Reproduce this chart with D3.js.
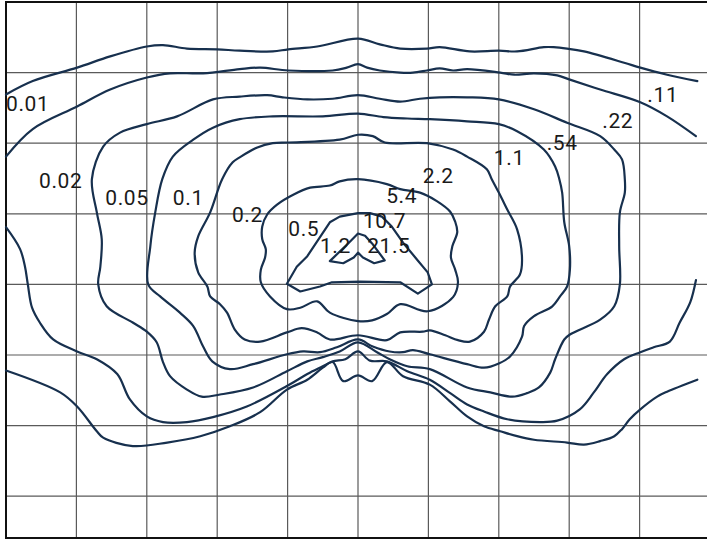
<!DOCTYPE html>
<html>
<head>
<meta charset="utf-8">
<script src="https://cdn.jsdelivr.net/npm/d3@7"></script>
<style>
  html, body { margin: 0; padding: 0; background: #fff; }
  svg { display: block; }
</style>
</head>
<body>
<svg id="chart" width="707" height="540"></svg>
<script>
// ---- Data (grid units; one grid cell = 1 unit, origin at the centre of the diagram) ----
const gridX = [-5,-4,-3,-2,-1,0,1,2,3,4,5];
const gridY = [4,3,2,1,0,-1,-2,-3];

// outermost contour (.11 / 0.01) – upper and lower branches
const c011Top = [[-5.00,2.69],[-4.62,2.88],[-3.99,3.07],[-3.52,3.23],[-3.00,3.37],[-2.77,3.39],[-2.43,3.34],[-2.00,3.33],[-1.68,3.31],[-1.21,3.30],[-0.99,3.33],[-0.58,3.37],[0,3.48],[0.31,3.40],[0.60,3.34],[0.98,3.34],[1.16,3.36],[1.59,3.30],[2.00,3.31],[2.26,3.30],[2.64,3.36],[2.78,3.36],[2.97,3.34],[3.21,3.30],[3.78,3.14],[4.01,3.07],[4.39,2.97],[4.82,2.88]];
const c011Bottom = [[-5.00,-1.22],[-4.23,-1.53],[-3.99,-1.73],[-3.71,-2.08],[-3.62,-2.17],[-3.20,-2.29],[-2.71,-2.24],[-2.24,-2.15],[-1.82,-2.01],[-1.39,-1.81],[-1.01,-1.49],[-0.72,-1.35],[-0.50,-1.18],[-0.36,-1.10],[-0.21,-1.37],[0,-1.29],[0.20,-1.37],[0.41,-1.10],[0.64,-1.30],[1.02,-1.42],[1.31,-1.66],[1.55,-1.87],[1.79,-2.01],[2.02,-2.08],[2.26,-2.15],[2.50,-2.20],[2.97,-2.24],[3.21,-2.27],[3.44,-2.22],[3.64,-2.15],[3.75,-2.05],[3.86,-1.91],[4.01,-1.77],[4.25,-1.59],[4.39,-1.52],[4.82,-1.35]];

// .22 / 0.02 contour – upper and lower branches
const c022Top = [[-5.00,1.81],[-4.62,2.20],[-3.99,2.52],[-3.52,2.76],[-3.00,2.93],[-2.67,2.99],[-2.20,2.99],[-1.68,3.05],[-1.39,3.07],[-0.99,3.03],[-0.36,3.03],[-0.16,3.07],[0,3.12],[0.13,3.07],[0.31,3.03],[0.60,3.00],[0.78,3.00],[0.98,3.03],[1.16,3.06],[1.35,3.03],[1.55,3.05],[2.02,3.00],[2.22,2.97],[2.50,2.99],[2.83,2.96],[3.01,2.90],[3.44,2.76],[4.01,2.58],[4.39,2.38],[4.80,2.10]];
const c022Bottom = [[-5.00,0.81],[-4.80,0.50],[-4.73,0.25],[-4.69,0],[-4.63,-0.33],[-4.52,-0.54],[-4.33,-0.78],[-3.99,-0.95],[-3.71,-1.06],[-3.42,-1.27],[-3.24,-1.63],[-3.00,-1.87],[-2.77,-1.95],[-2.43,-1.95],[-2.06,-1.88],[-1.58,-1.73],[-1.01,-1.44],[-0.72,-1.27],[-0.50,-1.16],[-0.36,-1.09],[-0.18,-1.06],[0,-0.95],[0.17,-1.08],[0.41,-1.09],[0.70,-1.23],[1.02,-1.35],[1.31,-1.54],[1.55,-1.70],[1.79,-1.80],[2.12,-1.91],[2.59,-1.95],[2.83,-1.93],[3.15,-1.77],[3.35,-1.53],[3.54,-1.27],[3.78,-1.06],[4.01,-0.96],[4.20,-0.89],[4.43,-0.81],[4.57,-0.54],[4.72,-0.25],[4.80,0.06]];

// closed contours
const c054 = [[-3.78,1.49],[-3.62,1.95],[-3.38,2.15],[-3.00,2.27],[-2.57,2.38],[-2.06,2.62],[-1.68,2.66],[-1.29,2.68],[-1.07,2.65],[-0.72,2.62],[-0.36,2.63],[0,2.68],[0.31,2.63],[0.60,2.59],[0.88,2.63],[1.16,2.65],[1.55,2.65],[2.00,2.62],[2.50,2.48],[2.97,2.29],[3.44,2.10],[3.64,1.91],[3.75,1.77],[3.79,1.49],[3.79,1.30],[3.72,1.02],[3.71,0.54],[3.72,0],[3.64,-0.31],[3.44,-0.50],[3.01,-0.71],[2.93,-0.78],[2.80,-1.06],[2.73,-1.25],[2.57,-1.46],[2.40,-1.54],[2.19,-1.59],[1.88,-1.53],[1.55,-1.46],[1.02,-1.20],[0.70,-1.16],[0.45,-1.06],[0.27,-0.96],[0,-0.82],[-0.26,-0.95],[-0.50,-1.03],[-0.72,-1.09],[-1.01,-1.23],[-1.49,-1.46],[-1.96,-1.56],[-2.22,-1.59],[-2.43,-1.49],[-2.67,-1.30],[-2.77,-1.10],[-2.86,-0.82],[-3.00,-0.67],[-3.20,-0.54],[-3.57,-0.31],[-3.69,0],[-3.66,0.25],[-3.64,0.64],[-3.71,1.02]];
const c11 = [[-2.78,1.49],[-2.63,1.81],[-2.34,2.05],[-2.06,2.22],[-1.68,2.34],[-1.21,2.38],[-0.50,2.38],[0,2.42],[0.36,2.37],[0.70,2.35],[1.02,2.34],[1.55,2.31],[2.00,2.27],[2.26,2.17],[2.64,1.91],[2.80,1.67],[2.86,1.49],[2.90,1.30],[2.93,0.88],[3.00,0.54],[3.01,0.21],[2.97,-0.03],[2.87,-0.17],[2.76,-0.31],[2.50,-0.45],[2.36,-0.59],[2.33,-0.74],[2.16,-1.02],[2.00,-1.12],[1.79,-1.18],[1.55,-1.13],[1.02,-0.99],[0.78,-0.93],[0.64,-0.96],[0.45,-0.95],[0.21,-0.88],[0,-0.78],[-0.30,-0.89],[-0.54,-0.96],[-0.78,-0.95],[-1.01,-0.99],[-1.49,-1.13],[-1.82,-1.20],[-2.07,-1.09],[-2.20,-0.88],[-2.34,-0.59],[-2.53,-0.40],[-2.81,-0.17],[-2.98,0],[-2.95,0.54],[-2.88,1.02]];
const c22 = [[-1.93,1.49],[-1.78,1.73],[-1.68,1.80],[-1.43,1.94],[-1.21,2.00],[-0.99,2.01],[-0.26,2.05],[0,2.12],[0.21,2.10],[0.38,2.01],[0.98,2.00],[1.35,1.91],[1.55,1.81],[1.83,1.63],[1.90,1.49],[2.00,1.30],[2.12,1.06],[2.26,0.78],[2.33,0.35],[2.30,0.14],[2.16,-0.03],[2.12,-0.17],[1.95,-0.31],[1.86,-0.50],[1.79,-0.67],[1.59,-0.81],[1.42,-0.79],[1.24,-0.72],[1.02,-0.65],[0.92,-0.67],[0.60,-0.68],[0.41,-0.79],[0,-0.72],[-0.40,-0.78],[-0.58,-0.68],[-0.80,-0.62],[-1.01,-0.68],[-1.39,-0.81],[-1.61,-0.78],[-1.75,-0.64],[-1.86,-0.40],[-1.96,-0.28],[-2.10,-0.17],[-2.14,-0.03],[-2.27,0.17],[-2.32,0.45],[-2.27,0.68],[-2.10,1.02]];
const c54 = [[0,1.49],[-0.26,1.46],[-0.40,1.40],[-0.68,1.37],[-0.92,1.27],[-1.15,1.13],[-1.29,0.99],[-1.36,0.82],[-1.36,0.64],[-1.31,0.50],[-1.32,0.38],[-1.38,0.21],[-1.38,0.03],[-1.25,-0.17],[-1.01,-0.35],[-0.82,-0.33],[-0.58,-0.24],[-0.40,-0.40],[0,-0.52],[0.20,-0.51],[0.41,-0.42],[0.60,-0.28],[0.99,-0.38],[1.35,-0.18],[1.42,0.03],[1.38,0.21],[1.32,0.38],[1.34,0.54],[1.41,0.74],[1.38,0.89],[1.31,1.03],[1.12,1.18],[0.88,1.30],[0.60,1.35],[0.41,1.42]];
const c107 = [[0,1.01],[-0.26,0.96],[-0.40,0.88],[-0.54,0.67],[-0.72,0.40],[-0.87,0.25],[-1.01,0.01],[-0.82,-0.10],[-0.54,-0.03],[-0.37,0.03],[0.03,0.04],[0.60,0.03],[0.85,-0.13],[1.05,0],[0.99,0.17],[0.84,0.35],[0.64,0.59],[0.48,0.82],[0.34,0.96],[0.17,1.01]];
const c215 = [[0,0.72],[-0.14,0.58],[-0.40,0.33],[-0.21,0.30],[-0.06,0.38],[0,0.45],[0.07,0.38],[0.23,0.30],[0.38,0.34],[0.20,0.58],[0.10,0.69]];

// level labels and their anchor points (grid units)
const labelText = ["0.01","0.02","0.05","0.1","0.2","0.5","1.2","21.5","10.7","5.4","2.2","1.1",".54",".22",".11"];
const labelX    = [-5.00,-4.53,-3.59,-2.63,-1.79,-0.99,-0.54,0.13,0.07,0.40,0.92,1.93,2.68,3.47,4.11];
const labelY    = [2.46,1.37,1.12,1.12,0.89,0.68,0.45,0.45,0.80,1.15,1.44,1.69,1.91,2.22,2.58];

// ---- Drawing ----
const svg = d3.select("#chart");
const x = d3.scaleLinear().domain([-5, 5]).range([6, 710]);
const y = d3.scaleLinear().domain([4, -4]).range([2, 566.8]);
const yBottom = 538;

const grid = svg.append("g");
grid.selectAll("line.v").data(gridX).join("line")
  .attr("x1", d => x(d)).attr("x2", d => x(d))
  .attr("y1", y(4)).attr("y2", yBottom)
  .attr("stroke", "#5a5a5a").attr("stroke-width", 1.2);
grid.selectAll("line.h").data(gridY).join("line")
  .attr("x1", x(-5)).attr("x2", x(5))
  .attr("y1", d => y(d)).attr("y2", d => y(d))
  .attr("stroke", "#5a5a5a").attr("stroke-width", 1.2);
// frame
svg.append("rect")
  .attr("x", x(-5)).attr("y", y(4))
  .attr("width", x(5) - x(-5)).attr("height", yBottom - y(4))
  .attr("fill", "none").attr("stroke", "#111").attr("stroke-width", 2);

const smooth = d3.line().x(d => x(d[0])).y(d => y(d[1])).curve(d3.curveCatmullRom.alpha(0.5));
const smoothClosed = d3.line().x(d => x(d[0])).y(d => y(d[1])).curve(d3.curveCatmullRomClosed.alpha(0.5));
const sharpClosed = d3.line().x(d => x(d[0])).y(d => y(d[1])).curve(d3.curveLinearClosed);

const lineColor = "#17304e";
const cg = svg.append("g").attr("fill", "none").attr("stroke", lineColor)
  .attr("stroke-width", 2.2).attr("stroke-linejoin", "round").attr("stroke-linecap", "round");

[c011Top, c011Bottom, c022Top, c022Bottom].forEach(pts => cg.append("path").attr("d", smooth(pts)));
[c054, c11, c22, c54].forEach(pts => cg.append("path").attr("d", smoothClosed(pts)));
[c107, c215].forEach(pts => cg.append("path").attr("d", sharpClosed(pts)));

svg.append("g").selectAll("text").data(labelText).join("text")
  .attr("x", (d, i) => x(labelX[i]))
  .attr("y", (d, i) => y(labelY[i]))
  .attr("font-family", "Roboto, 'Open Sans', sans-serif")
  .attr("font-weight", 400)
  .attr("font-size", 21)
  .attr("letter-spacing", 0.6)
  .attr("fill", "#1a1a1a")
  .text(d => d);
</script>
</body>
</html>
